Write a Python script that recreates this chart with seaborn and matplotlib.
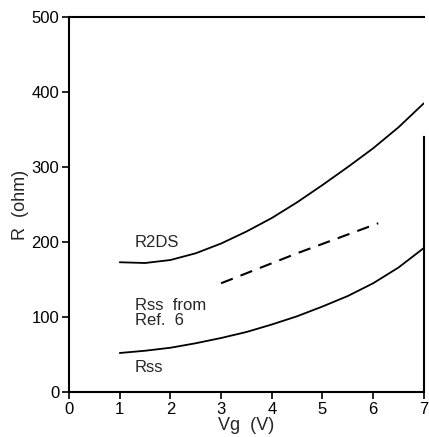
import matplotlib
matplotlib.use("Agg")
import matplotlib.pyplot as plt
import seaborn as sns
import pandas as pd

vg = [1.0, 1.5, 2.0, 2.5, 3.0, 3.5, 4.0, 4.5, 5.0, 5.5, 6.0, 6.5, 7.0]
r2ds = [173, 172, 176, 185, 198, 214, 232, 253, 276, 300, 325, 353, 385]
rss = [52, 55, 59, 65, 72, 80, 90, 101, 114, 128, 145, 166, 192]
vg_ref6 = [3.0, 4.5, 6.1]
rss_ref6 = [145, 185, 225]

xticks = [0, 1, 2, 3, 4, 5, 6, 7]
yticks = [0, 100, 200, 300, 400, 500]

sns.set_style("ticks")
plt.rcParams['font.family'] = ['Liberation Sans', 'DejaVu Sans']

fig = plt.figure(figsize=(4.29, 4.37), dpi=100)
ax = fig.add_axes([0.161, 0.103, 0.827, 0.858])

df1 = pd.DataFrame({"Vg": vg, "R": r2ds})
df2 = pd.DataFrame({"Vg": vg, "R": rss})
df3 = pd.DataFrame({"Vg": vg_ref6, "R": rss_ref6})
sns.lineplot(data=df1, x="Vg", y="R", ax=ax, color="black", lw=1.3)
sns.lineplot(data=df2, x="Vg", y="R", ax=ax, color="black", lw=1.3)
sns.lineplot(data=df3, x="Vg", y="R", ax=ax, color="black", lw=1.5, dashes=False, linestyle=(0, (6, 4)))

ax.set_xlim(0, 7)
ax.set_ylim(0, 500)
ax.set_xticks(xticks)
ax.set_yticks(yticks)
ax.tick_params(direction="out", length=5, width=1.2, labelsize=12, colors="black", pad=2)
for s in ax.spines.values():
    s.set_linewidth(1.5)
    s.set_color("black")
ax.spines['right'].set_bounds(0, 340)

ax.set_xlabel("Vg  (V)", fontsize=13, labelpad=0)
ax.set_ylabel("R  (ohm)", fontsize=13, labelpad=2)

ax.text(1.3, 200, "R2DS", fontsize=12, va="center", ha="left")
ax.text(1.3, 105, "Rss  from\nRef.  6", fontsize=12, va="center", ha="left", linespacing=1.0)
ax.text(1.3, 32, "Rss", fontsize=12, va="center", ha="left")

fig.savefig("out.png", dpi=100)
